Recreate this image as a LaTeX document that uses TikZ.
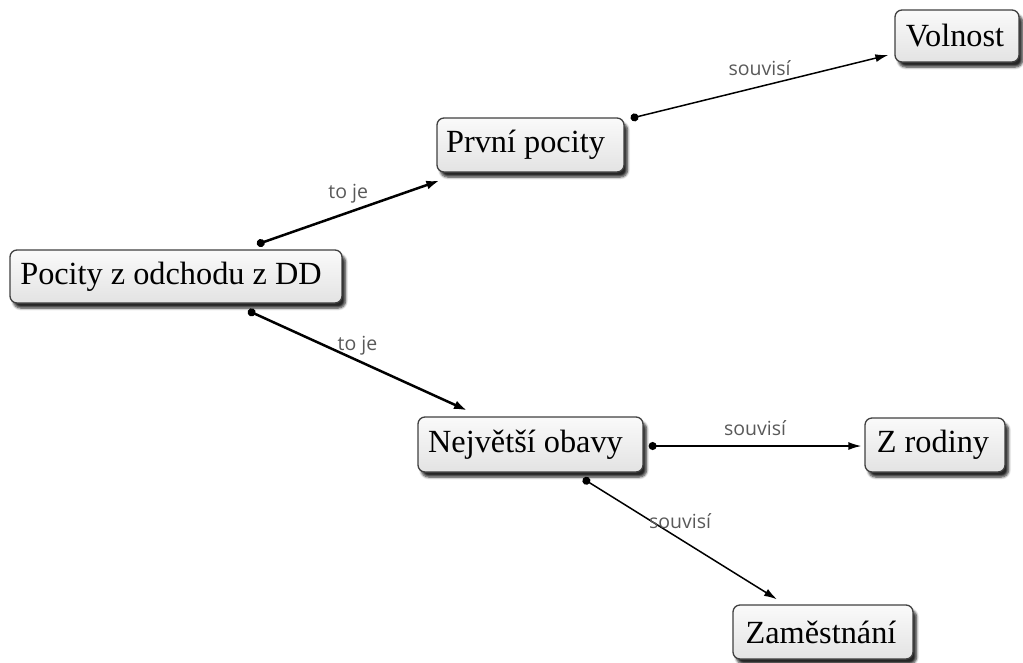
\documentclass[tikz,border=0pt]{standalone}
\usepackage{fontspec}
\setmainfont{Liberation Serif}
\newfontfamily\lblfont{Open Sans}
\usetikzlibrary{arrows.meta,shadows.blur,calc}
\newcommand{\shl}{\hspace*{-10pt}}
\tikzset{
  concept/.style={draw=black!75, line width=1.3pt, rounded corners=7pt,
    top color=black!2, bottom color=black!11, text=black,
    font=\fontsize{32.3}{37}\selectfont, inner sep=0pt,
    blur shadow={shadow xshift=3.5pt, shadow yshift=-5pt, shadow blur steps=6, shadow blur radius=2.5pt, shadow opacity=85}},
  thickconn/.style={line width=2.5pt, {Circle[length=8pt]}-{Latex[length=13pt,width=9pt]}},
  thinconn/.style={line width=1.5pt, {Circle[length=8pt]}-{Latex[length=13pt,width=8pt]}},
  lbl/.style={font=\lblfont\fontsize{19.5}{21}\selectfont, text=black!65, inner sep=0pt}
}
\begin{document}
\begin{tikzpicture}[x=1pt,y=-1pt]
\useasboundingbox (0,0) rectangle (1023,662);
\node[concept, minimum width=332pt, minimum height=53pt] (pocity) at (176,276.5) {\shl Pocity z odchodu z DD};
\node[concept, minimum width=187pt, minimum height=54pt] (prvni) at (530.5,145) {\shl První pocity};
\node[concept, minimum width=124pt, minimum height=52pt] (volnost) at (957,36) {\hspace*{-4pt}Volnost};
\node[concept, minimum width=225pt, minimum height=55pt] (obavy) at (530.5,444.5) {\shl Největší obavy};
\node[concept, minimum width=140pt, minimum height=54pt] (rodiny) at (935,445) {\hspace*{-4pt}Z rodiny};
\node[concept, minimum width=180pt, minimum height=54pt] (zam) at (823,632) {\hspace*{-4pt}Zaměstnání};

\draw[thickconn] ($(pocity.north)+(81,-5)$) -- node[lbl, yshift=19pt] (l1) {to je} ($(prvni.south west)+(3,8)$);
\draw[thickconn] ($(pocity.south)+(72,7)$) -- node[lbl, yshift=15pt] (l2) {to je} ($(obavy.north)+(-63.5,-6)$);
\draw[thinconn] ($(prvni.north east)+(6,1)$) -- node[lbl, yshift=19pt] (l3) {souvisí} ($(volnost.west)+(-6,19)$);
\draw[thinconn] ($(obavy.east)+(5,1.5)$) -- node[lbl, yshift=18pt] (l4) {souvisí} ($(rodiny.west)+(-3,1)$);
\draw[thinconn] ($(obavy.south)+(52.5,6)$) -- node[lbl, yshift=18pt] (l5) {souvisí} ($(zam.north)+(-46,-5)$);
\end{tikzpicture}
\end{document}
